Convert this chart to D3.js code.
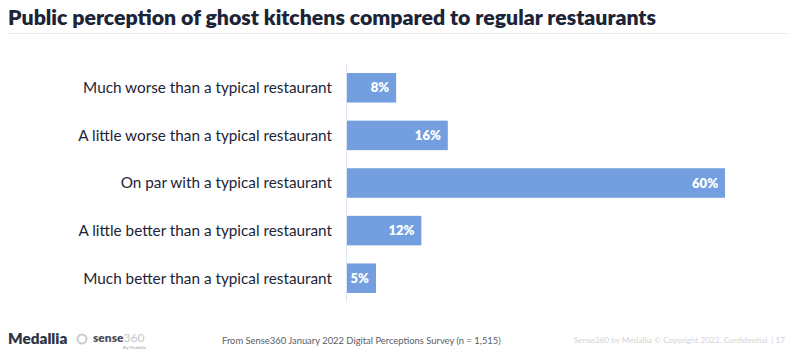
<!DOCTYPE html>
<html><head><meta charset="utf-8">
<script src="https://cdn.jsdelivr.net/npm/d3@7"></script>
<style>body{margin:0;background:#fff}svg{display:block}</style>
</head><body>
<svg id="c" width="800" height="357"></svg>
<script>
const categories = [
  "Much worse than a typical restaurant",
  "A little worse than a typical restaurant",
  "On par with a typical restaurant",
  "A little better than a typical restaurant",
  "Much better than a typical restaurant"
];
const values = [7.8, 16.0, 60.0, 11.8, 4.6];
const valueLabels = ["8%", "16%", "60%", "12%", "5%"];
const title = "Public perception of ghost kitchens compared to regular restaurants";
const source = "From Sense360 January 2022 Digital Perceptions Survey (n = 1,515)";
const copyright = "Sense360 by Medallia © Copyright 2022. Confidential.  |  17";

const svg = d3.select("#c");
const x0 = 347;
const x = d3.scaleLinear().domain([0, 60]).range([x0, 725]);
const y = d3.scaleBand().domain(categories).range([64, 302]).paddingInner(0.38).paddingOuter(0.19);

// title
svg.append("text").attr("x", 8).attr("y", 25)
  .attr("font-family", "Lato, 'Open Sans', sans-serif").attr("font-weight", 800)
  .attr("font-size", 21.3).attr("fill", "#1c2438")
  .attr("textLength", 648).attr("lengthAdjust", "spacingAndGlyphs").text(title);
svg.append("line").attr("x1", 8).attr("x2", 788).attr("y1", 33.5).attr("y2", 33.5)
  .attr("stroke", "#e6e8ec").attr("stroke-width", 1);

// bars
svg.append("g").selectAll("rect").data(values).join("rect")
  .attr("x", x0).attr("y", (d, i) => y(categories[i]))
  .attr("width", d => x(d) - x0).attr("height", y.bandwidth())
  .attr("fill", "#739fe0");

// axis line
svg.append("line").attr("x1", 346.5).attr("x2", 346.5).attr("y1", 64).attr("y2", 302)
  .attr("stroke", "#dfe6f3").attr("stroke-width", 1);

// value labels
svg.append("g").selectAll("text").data(values).join("text")
  .attr("x", d => x(d) - 7).attr("y", (d, i) => y(categories[i]) + y.bandwidth() / 2)
  .attr("dy", "0.35em").attr("text-anchor", "end")
  .attr("font-family", "Lato, sans-serif").attr("font-weight", 800).attr("font-size", 13)
  .attr("fill", "#fff").text((d, i) => valueLabels[i]);

// category labels
svg.append("g").selectAll("text").data(categories).join("text")
  .attr("x", 332).attr("y", d => y(d) + y.bandwidth() / 2)
  .attr("dy", "0.35em").attr("text-anchor", "end")
  .attr("font-family", "Lato, sans-serif").attr("font-size", 15.3)
  .attr("fill", "#1c2438").text(d => d);

// footer
svg.append("text").attr("x", 8).attr("y", 344)
  .attr("font-family", "Lato, sans-serif").attr("font-weight", 800).attr("font-size", 15.3)
  .attr("fill", "#2d3443").text("Medallia");
svg.append("circle").attr("cx", 82).attr("cy", 339).attr("r", 4.5)
  .attr("fill", "none").attr("stroke", "#c9ccd1").attr("stroke-width", 2);
svg.append("text").attr("x", 93).attr("y", 342)
  .attr("font-family", "Lato, sans-serif").attr("font-weight", 800).attr("font-size", 12)
  .attr("fill", "#4a4f59").text("sense")
  .append("tspan").attr("fill", "#c3c6cc").attr("font-weight", 400).text("360");
svg.append("text").attr("x", 146).attr("y", 349).attr("text-anchor", "end")
  .attr("font-family", "Lato, sans-serif").attr("font-size", 4.5)
  .attr("fill", "#9a9ea6").text("By Medallia");
svg.append("text").attr("x", 222).attr("y", 344)
  .attr("font-family", "Lato, sans-serif").attr("font-size", 9.4)
  .attr("fill", "#5a5e66").text(source);
svg.append("text").attr("x", 785).attr("y", 343).attr("text-anchor", "end")
  .attr("font-family", "Lato, sans-serif").attr("font-size", 8.2)
  .attr("fill", "#d2d4d8").text(copyright);
</script>
</body></html>
